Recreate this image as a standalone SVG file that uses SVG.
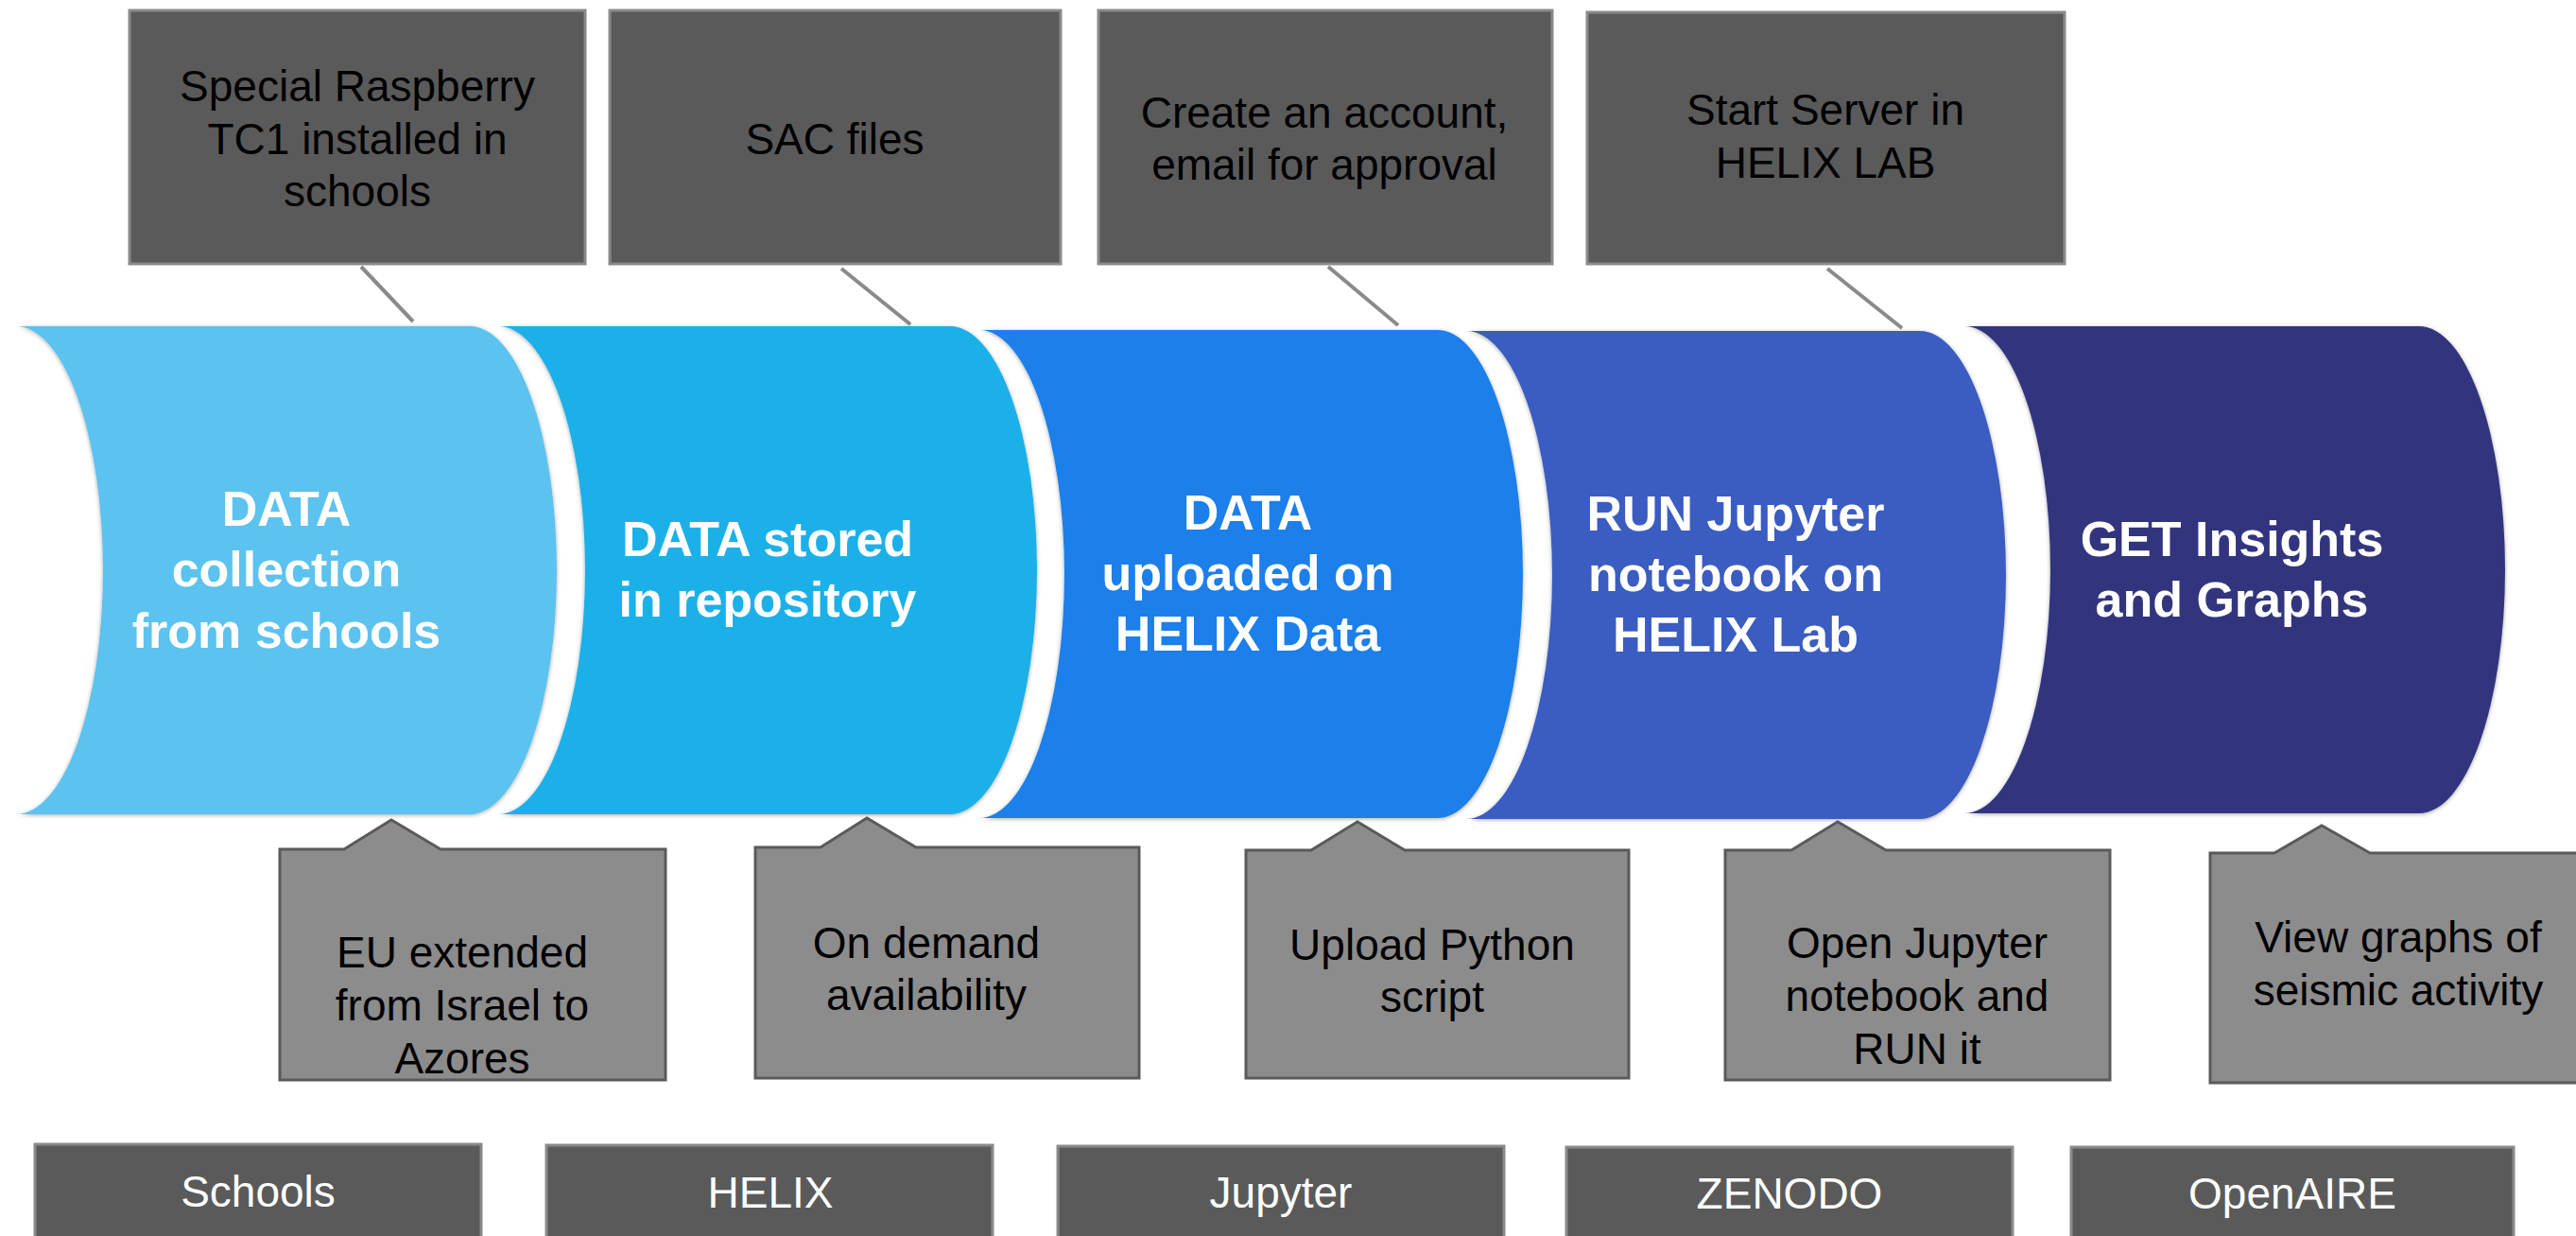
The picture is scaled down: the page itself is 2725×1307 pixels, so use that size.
<svg xmlns="http://www.w3.org/2000/svg" width="2725" height="1307" viewBox="0 0 2725 1307">
<defs>
<filter id="sh" x="-5%" y="-5%" width="110%" height="110%">
<feDropShadow dx="0" dy="1" stdDeviation="2" flood-color="#000" flood-opacity="0.35"/>
</filter>
<style>
.top{fill:#5a5a5a;stroke:#8a8a8a;stroke-width:3}
.bot{fill:#5a5a5a;stroke:#8a8a8a;stroke-width:3}
.call{fill:#8c8c8c;stroke:#5a5a5a;stroke-width:3;stroke-linejoin:miter}
.seg{filter:url(#sh)}
.t{font-family:"Liberation Sans",Arial,sans-serif;font-size:46px;text-anchor:middle;fill:#000}
.w{font-family:"Liberation Sans",Arial,sans-serif;font-size:46px;text-anchor:middle;fill:#fff}
.b{font-family:"Liberation Sans",Arial,sans-serif;font-size:52px;font-weight:bold;text-anchor:middle;fill:#fff}
.con{stroke:#8a8a8a;stroke-width:4;fill:none}
</style>
</defs>
<rect width="2725" height="1307" fill="#fff"/>

<g id="connectors">
<line class="con" x1="382" y1="282" x2="437" y2="340"/>
<line class="con" x1="890" y1="284" x2="963" y2="343"/>
<line class="con" x1="1405" y1="282" x2="1479" y2="344"/>
<line class="con" x1="1933" y1="284" x2="2012" y2="347"/>
</g>

<g id="top1"><rect class="top" x="137" y="11" width="482" height="268"/>
<text class="t" x="378" y="107">Special Raspberry</text>
<text class="t" x="378" y="163">TC1 installed in</text>
<text class="t" x="378" y="218">schools</text></g>
<g id="top2"><rect class="top" x="645" y="11" width="477" height="268"/>
<text class="t" x="883" y="163">SAC files</text></g>
<g id="top3"><rect class="top" x="1162" y="11" width="480" height="268"/>
<text class="t" x="1401" y="135">Create an account,</text>
<text class="t" x="1401" y="190">email for approval</text></g>
<g id="top4"><rect class="top" x="1679" y="13" width="505" height="266"/>
<text class="t" x="1931" y="132">Start Server in</text>
<text class="t" x="1931" y="188">HELIX LAB</text></g>

<g id="seg1"><path class="seg" fill="#5bc2ef" d="M17 345 H497 A92 258 0 0 1 497 861 H17 A92 258 0 0 0 17 345 Z"/>
<text class="b" x="303" y="556">DATA</text>
<text class="b" x="303" y="620">collection</text>
<text class="b" x="303" y="685">from schools</text></g>
<g id="seg2"><path class="seg" fill="#1ab0e9" d="M527 345 H1005 A92 258 0 0 1 1005 861 H527 A92 258 0 0 0 527 345 Z"/>
<text class="b" x="812" y="588">DATA stored</text>
<text class="b" x="812" y="652">in repository</text></g>
<g id="seg3"><path class="seg" fill="#1a7fea" d="M1036 349 H1521 A90 258 0 0 1 1521 865 H1036 A90 258 0 0 0 1036 349 Z"/>
<text class="b" x="1320" y="560">DATA</text>
<text class="b" x="1320" y="624">uploaded on</text>
<text class="b" x="1320" y="688">HELIX Data</text></g>
<g id="seg4"><path class="seg" fill="#3a5bc0" d="M1551 350 H2031 A91 258 0 0 1 2031 866 H1551 A91 258 0 0 0 1551 350 Z"/>
<text class="b" x="1836" y="561">RUN Jupyter</text>
<text class="b" x="1836" y="625">notebook on</text>
<text class="b" x="1836" y="689">HELIX Lab</text></g>
<g id="seg5"><path class="seg" fill="#31367e" d="M2078 345 H2559 A91 257.5 0 0 1 2559 860 H2078 A91 257.5 0 0 0 2078 345 Z"/>
<text class="b" x="2361" y="588">GET Insights</text>
<text class="b" x="2361" y="652">and Graphs</text></g>

<g id="call1"><path class="call" d="M296 898 H364 L414 867 L466 898 H704 V1142 H296 Z"/>
<text class="t" x="489" y="1023">EU extended</text>
<text class="t" x="489" y="1079">from Israel to</text>
<text class="t" x="489" y="1135">Azores</text></g>
<g id="call2"><path class="call" d="M799 896 H868 L917 865 L969 896 H1205 V1140 H799 Z"/>
<text class="t" x="980" y="1013">On demand</text>
<text class="t" x="980" y="1068">availability</text></g>
<g id="call3"><path class="call" d="M1318 899 H1387 L1436 869 L1486 899 H1723 V1140 H1318 Z"/>
<text class="t" x="1515" y="1015">Upload Python</text>
<text class="t" x="1515" y="1070">script</text></g>
<g id="call4"><path class="call" d="M1825 899 H1895 L1944 869 L1995 899 H2232 V1142 H1825 Z"/>
<text class="t" x="2028" y="1013">Open Jupyter</text>
<text class="t" x="2028" y="1069">notebook and</text>
<text class="t" x="2028" y="1125">RUN it</text></g>
<g id="call5"><path class="call" d="M2338 902 H2406 L2456 873 L2507 902 H2745 V1145 H2338 Z"/>
<text class="t" x="2537" y="1007">View graphs of</text>
<text class="t" x="2537" y="1063">seismic activity</text></g>

<g id="b1"><rect class="bot" x="37" y="1210" width="472" height="120"/><text class="w" x="273" y="1276">Schools</text></g>
<g id="b2"><rect class="bot" x="578" y="1211" width="472" height="120"/><text class="w" x="815" y="1277">HELIX</text></g>
<g id="b3"><rect class="bot" x="1119" y="1212" width="472" height="120"/><text class="w" x="1355" y="1277">Jupyter</text></g>
<g id="b4"><rect class="bot" x="1657" y="1213" width="472" height="120"/><text class="w" x="1893" y="1278">ZENODO</text></g>
<g id="b5"><rect class="bot" x="2191" y="1213" width="468" height="120"/><text class="w" x="2425" y="1278">OpenAIRE</text></g>
</svg>
